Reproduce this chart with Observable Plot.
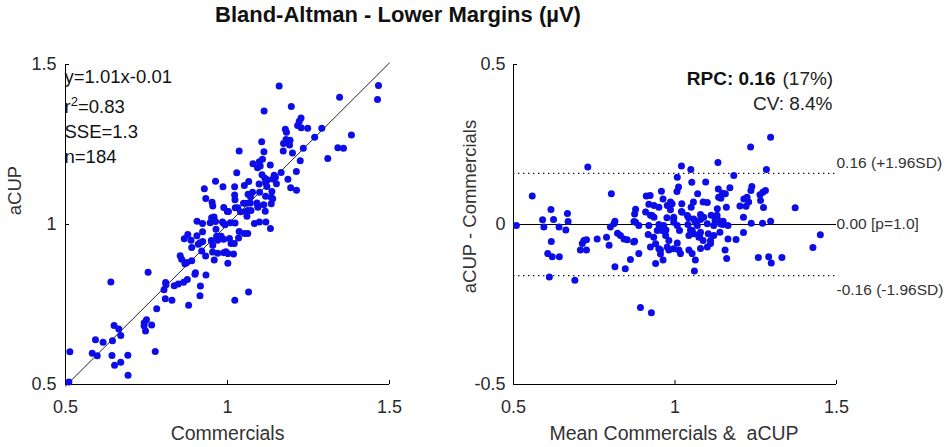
<!DOCTYPE html>
<html>
<head>
<meta charset="utf-8">
<script src="https://cdn.jsdelivr.net/npm/d3@7"></script>
<script src="https://cdn.jsdelivr.net/npm/@observablehq/plot@0.6"></script>
<style>
  html, body { margin: 0; padding: 0; background: #fff; }
  body { width: 948px; height: 447px; position: relative; overflow: hidden; font-family: "Liberation Sans", Arial, sans-serif; }
  #title { position: absolute; left: 215px; top: 2px; font-size: 22px; line-height: 26px; font-weight: bold; color: #111; white-space: nowrap; }
  #row { position: absolute; left: 0; top: 40px; display: flex; }
  #row svg { overflow: visible; }
</style>
</head>
<body>
<div id="title">Bland-Altman - Lower Margins (µV)</div>
<div id="row"><div id="left"></div><div id="right"></div></div>
<script>
// Bland-Altman readings: mean of the two methods and difference (aCUP - Commercials)
const meanVals = [
  1.296,1.234,1.133,1.020,1.049,0.730,1.283,1.007,1.182,1.052,1.095,0.558,0.803,1.011,1.006,1.134,1.170,1.238,1.235,1.272,
  1.263,0.911,0.923,0.958,1.070,1.147,1.156,1.135,1.213,1.223,0.963,0.991,1.021,1.057,1.087,1.100,1.159,1.201,1.220,1.274,
  1.372,0.616,0.667,0.878,0.919,0.935,0.950,0.976,0.986,1.020,1.050,1.079,1.112,1.130,0.875,0.924,0.935,0.975,0.996,1.042,
  1.058,1.079,1.124,1.149,1.212,0.590,0.624,0.669,0.814,0.873,1.296,1.271,1.236,0.509,0.594,0.641,0.662,0.811,0.800,0.888,
  0.919,0.950,0.972,0.960,1.007,1.040,1.048,1.069,1.100,1.120,1.148,1.164,1.014,1.212,1.450,0.617,0.718,0.726,0.759,0.788,
  0.822,0.831,0.842,0.852,0.875,0.917,0.934,0.971,0.981,1.007,1.043,1.058,1.076,1.087,1.103,1.120,1.139,1.164,1.189,1.427,
  0.606,0.620,0.642,0.611,0.690,0.713,0.707,0.726,0.796,0.814,0.846,0.862,0.888,0.893,0.927,0.924,0.940,0.955,0.963,0.976,
  0.981,1.012,1.017,1.043,1.053,1.063,1.060,1.079,1.100,1.110,1.155,1.160,1.258,1.290,1.298,1.331,
  0.986,0.909,0.929,0.996,1.022,1.038,0.965,0.996,0.945,0.940,0.950,0.955,0.996,0.872,0.878,1.280,1.228,1.265,1.131,1.089,
  1.131,1.142,1.063,1.141,1.053,1.079,1.074,1.110
];
const diffVals = [
  0.273,0.242,0.194,0.183,0.172,0.180,0.172,0.148,0.153,0.132,0.133,0.089,0.096,0.117,0.103,0.111,0.115,0.119,0.106,0.101,
  0.093,0.089,0.091,0.104,0.096,0.098,0.096,0.085,0.080,0.085,0.080,0.065,0.065,0.070,0.070,0.069,0.054,0.058,0.057,0.053,
  0.052,0.047,0.034,0.048,0.063,0.059,0.054,0.059,0.046,0.041,0.054,0.031,0.029,0.029,0.033,0.029,0.023,0.021,0.023,0.021,
  0.017,0.016,0.013,0.010,0.023,0.015,0.016,0.009,0.010,0.009,0.010,0.004,0.004,-0.003,-0.008,-0.008,-0.017,0.002,-0.008,-0.003,
  -0.003,0.000,-0.017,-0.019,-0.003,0.000,-0.017,-0.003,0.002,-0.003,0.000,-0.003,-0.019,-0.025,-0.032,-0.053,-0.050,-0.048,-0.045,-0.040,
  -0.027,-0.034,-0.045,-0.048,-0.052,-0.031,-0.040,-0.034,-0.050,-0.058,-0.034,-0.029,-0.034,-0.050,-0.029,-0.034,-0.024,-0.045,-0.047,-0.072,
  -0.091,-0.101,-0.101,-0.164,-0.174,-0.059,-0.080,-0.080,-0.065,-0.132,-0.138,-0.109,-0.091,-0.259,-0.276,-0.070,-0.122,-0.080,-0.111,-0.070,
  -0.080,-0.080,-0.091,-0.080,-0.091,-0.111,-0.145,-0.075,-0.070,-0.059,-0.080,-0.106,-0.103,-0.101,-0.120,-0.103,
  0.070,0.039,0.028,0.018,0.038,0.028,-0.003,0.007,-0.019,-0.060,-0.076,-0.092,-0.076,-0.055,0.007,0.106,0.070,0.075,0.049,0.023,
  0.018,0.082,0.007,0.002,-0.019,-0.024,-0.040,-0.050
];

// Fit and agreement statistics as printed on the chart
const fitSlope = 1.01;
const fitIntercept = -0.01;
const statLines = ["y=1.01x-0.01", "r2=0.83", "SSE=1.3", "n=184"];
const bias = 0.00;
const loa = 0.16;
const limitLabels = ["0.16 (+1.96SD)", "0.00 [p=1.0]", "-0.16 (-1.96SD)"];
const xTicks = [0.5, 1, 1.5];
const yTicksLeft = [0.5, 1, 1.5];
const yTicksRight = [-0.5, 0, 0.5];

// the two methods recovered from mean and difference
const points = meanVals.map((m, i) => ({
  mean: m,
  diff: diffVals[i],
  commercials: m - diffVals[i] / 2,
  acup: m + diffVals[i] / 2
}));

const FONT = '"Liberation Sans", Arial, sans-serif';
const DOT = "#0d0de8";
const TICKCOL = "#2a2a2a";
const TICKFS = 18;

// ---------- left: scatter ----------
const leftW = 474, leftH = 407;
const lML = 65, lMR = 85, lMT = 24, lMB = 63;
const lFW = leftW - lML - lMR, lFH = leftH - lMT - lMB;
const lineX = [0.5, 1.5];
const fitLine = lineX.map(x => ({x, y: fitSlope * x + fitIntercept}));

const left = Plot.plot({
  width: leftW, height: leftH,
  marginLeft: lML, marginRight: lMR, marginTop: lMT, marginBottom: lMB,
  style: {fontFamily: FONT, background: "white", overflow: "visible"},
  x: {domain: [0.5, 1.5]},
  y: {domain: [0.5, 1.5]},
  marks: [
    Plot.ruleX([0.5], {stroke: "#000", strokeWidth: 1}),
    Plot.ruleY([0.5], {stroke: "#000", strokeWidth: 1}),
    Plot.ruleX(xTicks, {stroke: "#000", insetTop: lFH - 4}),
    Plot.ruleY(yTicksLeft, {stroke: "#000", insetRight: lFW - 4}),
    Plot.axisX(xTicks, {tickSize: 0, tickPadding: 16, fontSize: TICKFS, fill: TICKCOL, tickFormat: d => String(d), label: null}),
    Plot.axisY(yTicksLeft, {tickSize: 0, tickPadding: 9, fontSize: TICKFS, fill: TICKCOL, tickFormat: d => String(d), label: null}),
    Plot.line(fitLine, {x: "x", y: "y", stroke: "#222", strokeWidth: 1}),
    Plot.dot(points, {x: "commercials", y: "acup", r: 3.5, fill: DOT, stroke: "none"}),
    ...statLines.map((s, i) => Plot.text([s], {
      frameAnchor: "top-left", textAnchor: "start", lineAnchor: "middle", dx: -1, dy: [13, 43, 68, 93][i],
      fontSize: 18.5, fill: "#111", className: i === 1 ? "rsq" : undefined
    })),
    Plot.text(["aCUP"], {frameAnchor: "left", textAnchor: "middle", lineAnchor: "middle", dx: -50, dy: -34, rotate: -90, fontSize: 18.5, fill: "#333"}),
    Plot.text(["Commercials"], {frameAnchor: "bottom", textAnchor: "middle", lineAnchor: "middle", dy: 49, fontSize: 19.5, fill: "#333"})
  ]
});
document.getElementById("left").appendChild(left);

// superscript for r squared
left.querySelectorAll("text").forEach(t => {
  if (t.textContent === statLines[1]) {
    const rest = statLines[1].slice(2);
    t.textContent = "";
    const ns = "http://www.w3.org/2000/svg";
    const a = document.createElementNS(ns, "tspan"); a.textContent = "r";
    const b = document.createElementNS(ns, "tspan"); b.textContent = "2";
    b.setAttribute("dy", "-7"); b.setAttribute("font-size", "13");
    const c = document.createElementNS(ns, "tspan"); c.textContent = rest; c.setAttribute("dy", "7");
    t.appendChild(a); t.appendChild(b); t.appendChild(c);
  }
});

// ---------- right: Bland-Altman ----------
const rightW = 474, rightH = 407;
const rML = 39, rMR = 112, rMT = 24, rMB = 63;
const rFW = rightW - rML - rMR, rFH = rightH - rMT - rMB;
const limitRows = [
  {y: bias + loa, label: limitLabels[0], dy: -10},
  {y: bias, label: limitLabels[1], dy: 0},
  {y: bias - loa, label: limitLabels[2], dy: 14}
];

const right = Plot.plot({
  width: rightW, height: rightH,
  marginLeft: rML, marginRight: rMR, marginTop: rMT, marginBottom: rMB,
  style: {fontFamily: FONT, background: "white", overflow: "visible"},
  x: {domain: [0.5, 1.5]},
  y: {domain: [-0.5, 0.5]},
  marks: [
    Plot.ruleX([0.5], {stroke: "#000", strokeWidth: 1}),
    Plot.ruleY([-0.5], {stroke: "#000", strokeWidth: 1}),
    Plot.ruleX(xTicks, {stroke: "#000", insetTop: rFH - 4}),
    Plot.ruleY(yTicksRight, {stroke: "#000", insetRight: rFW - 4}),
    Plot.axisX(xTicks, {tickSize: 0, tickPadding: 16, fontSize: TICKFS, fill: TICKCOL, tickFormat: d => String(d), label: null}),
    Plot.axisY(yTicksRight, {tickSize: 0, tickPadding: 8, fontSize: TICKFS, fill: TICKCOL, tickFormat: d => String(d), label: null}),
    Plot.ruleY([bias + loa, bias - loa], {stroke: "#111", strokeWidth: 1.3, strokeDasharray: "1.4,3.6"}),
    Plot.ruleY([bias], {stroke: "#000", strokeWidth: 1.2}),
    Plot.dot(points, {x: "mean", y: "diff", r: 3.5, fill: DOT, stroke: "none"}),
    ...limitRows.map(r => Plot.text([r], {
      x: () => 1.5, y: "y", text: "label", textAnchor: "start", lineAnchor: "middle", dx: 0, dy: r.dy,
      fontSize: 15.5, fill: "#333"
    })),
    Plot.text(["RPC: 0.16"], {frameAnchor: "top-left", textAnchor: "end", lineAnchor: "middle", dx: 262, dy: 14, fontSize: 19, fontWeight: "bold", fill: "#111"}),
    Plot.text(["(17%)"], {frameAnchor: "top-left", textAnchor: "start", lineAnchor: "middle", dx: 269, dy: 14, fontSize: 19, fill: "#222"}),
    Plot.text(["CV: 8.4%"], {frameAnchor: "top-left", textAnchor: "end", lineAnchor: "middle", dx: 319, dy: 39, fontSize: 19, fill: "#222"}),
    Plot.text(["aCUP - Commercials"], {frameAnchor: "left", textAnchor: "middle", lineAnchor: "middle", dx: -43, dy: -18, rotate: -90, fontSize: 18.5, fill: "#333"}),
    Plot.text(["Mean Commercials &\u00a0 aCUP"], {frameAnchor: "bottom", textAnchor: "middle", lineAnchor: "middle", dx: -1, dy: 49, fontSize: 19.5, fill: "#333"})
  ]
});
document.getElementById("right").appendChild(right);
</script>
</body>
</html>
